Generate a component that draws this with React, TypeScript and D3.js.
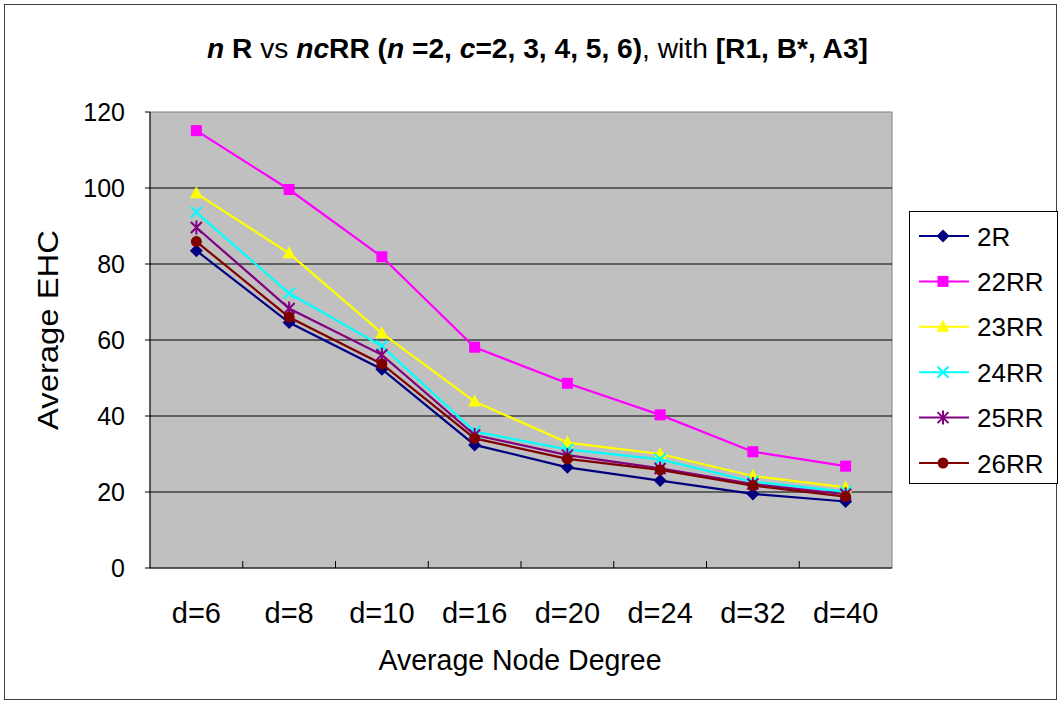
import React from 'react';
import * as d3 from 'd3';

// categories and series
const categories = ['d=6', 'd=8', 'd=10', 'd=16', 'd=20', 'd=24', 'd=32', 'd=40'];
const s2R = [83.5, 64.6, 52.3, 32.4, 26.5, 23.0, 19.5, 17.5];
const s22RR = [115.1, 99.6, 81.9, 58.1, 48.6, 40.3, 30.6, 26.8];
const s23RR = [98.6, 82.8, 61.8, 43.8, 33.0, 30.0, 24.2, 21.2];
const s24RR = [93.6, 72.3, 58.4, 35.9, 31.2, 28.6, 22.7, 20.1];
const s25RR = [89.6, 68.3, 56.1, 35.0, 29.7, 26.2, 22.1, 19.4];
const s26RR = [85.9, 66.0, 53.7, 34.1, 28.7, 25.8, 21.7, 18.8];
const yTicks = [0, 20, 40, 60, 80, 100, 120];

type Marker = 'diamond' | 'square' | 'triangle' | 'x' | 'star' | 'circle';
const seriesList: { name: string; values: number[]; color: string; marker: Marker }[] = [
  { name: '2R', values: s2R, color: '#000080', marker: 'diamond' },
  { name: '22RR', values: s22RR, color: '#ff00ff', marker: 'square' },
  { name: '23RR', values: s23RR, color: '#ffff00', marker: 'triangle' },
  { name: '24RR', values: s24RR, color: '#00ffff', marker: 'x' },
  { name: '25RR', values: s25RR, color: '#800080', marker: 'star' },
  { name: '26RR', values: s26RR, color: '#800000', marker: 'circle' },
];

const W = 1061;
const H = 705;
const plot = { left: 150, right: 892, top: 112, bottom: 568 };
const NARROW = '"Liberation Sans Narrow", "Liberation Sans", Arial, sans-serif';
const SANS = '"Liberation Sans", Arial, sans-serif';

function MarkerShape({ type, x, y, color }: { type: Marker; x: number; y: number; color: string }) {
  const r = 6.5;
  switch (type) {
    case 'diamond':
      return <path d={`M${x},${y - r} L${x + r},${y} L${x},${y + r} L${x - r},${y} Z`} fill={color} />;
    case 'square':
      return <rect x={x - 5.5} y={y - 5.5} width={11} height={11} fill={color} />;
    case 'triangle':
      return <path d={`M${x},${y - 7} L${x + 6.5},${y + 5} L${x - 6.5},${y + 5} Z`} fill={color} />;
    case 'x':
      return (
        <path d={`M${x - 5.5},${y - 5.5} L${x + 5.5},${y + 5.5} M${x - 5.5},${y + 5.5} L${x + 5.5},${y - 5.5}`} stroke={color} strokeWidth={2} />
      );
    case 'star':
      return (
        <path
          d={`M${x - 5.5},${y - 5.5} L${x + 5.5},${y + 5.5} M${x - 5.5},${y + 5.5} L${x + 5.5},${y - 5.5} M${x},${y - 7} L${x},${y + 7}`}
          stroke={color}
          strokeWidth={2}
        />
      );
    default:
      return <circle cx={x} cy={y} r={5.5} fill={color} />;
  }
}

export default function App() {
  const x = d3.scaleBand<string>().domain(categories).range([plot.left, plot.right]).padding(0);
  const y = d3.scaleLinear().domain([0, 120]).range([plot.bottom, plot.top]);
  const cx = (c: string) => (x(c) ?? 0) + x.bandwidth() / 2;

  const line = d3
    .line<number>()
    .x((_, i) => cx(categories[i]))
    .y((d) => y(d));

  const legendX = 909;
  const legendY = 211;
  const legendStep = 45.4;

  return (
    <div style={{ position: 'absolute', left: 0, top: 0 }}>
      <svg width={W} height={H} style={{ display: 'block', background: '#fff' }}>
        {/* outer frame */}
        <rect x={4.5} y={4.5} width={1052} height={695} fill="#fff" stroke="#404040" strokeWidth={1} />

        {/* title */}
        <text x={207} y={58} fontFamily={NARROW} fontSize={27} fontWeight="bold" textLength={661} lengthAdjust="spacingAndGlyphs">
          <tspan fontStyle="italic">n </tspan>
          <tspan>R </tspan>
          <tspan fontWeight="normal">vs </tspan>
          <tspan fontStyle="italic">nc</tspan>
          <tspan>RR (</tspan>
          <tspan fontStyle="italic">n </tspan>
          <tspan>=2, </tspan>
          <tspan fontStyle="italic">c</tspan>
          <tspan>=2, 3, 4, 5, 6)</tspan>
          <tspan fontWeight="normal">, with </tspan>
          <tspan>[R1, B*, A3]</tspan>
        </text>

        {/* plot area */}
        <rect x={plot.left} y={plot.top} width={plot.right - plot.left} height={plot.bottom - plot.top} fill="#c0c0c0" stroke="#808080" strokeWidth={1} />
        {yTicks.filter((t) => t > 0 && t < 120).map((t) => (
          <line key={t} x1={plot.left} x2={plot.right} y1={y(t)} y2={y(t)} stroke="#000" strokeWidth={1} />
        ))}

        {/* axes */}
        <line x1={plot.left} x2={plot.left} y1={plot.top} y2={plot.bottom} stroke="#000" strokeWidth={1} />
        <line x1={plot.left} x2={plot.right} y1={plot.bottom} y2={plot.bottom} stroke="#000" strokeWidth={1} />
        {yTicks.map((t) => (
          <g key={t}>
            <line x1={plot.left - 5} x2={plot.left} y1={y(t)} y2={y(t)} stroke="#000" />
            <text x={125} y={y(t) + 9} textAnchor="end" fontFamily={SANS} fontSize={25} fill="#000">
              {t}
            </text>
          </g>
        ))}
        {categories.map((c, i) => (
          <g key={c}>
            {i > 0 && <line x1={x(c)} x2={x(c)} y1={plot.bottom - 7} y2={plot.bottom} stroke="#000" />}
            <text x={cx(c)} y={623} textAnchor="middle" fontFamily={NARROW} fontSize={29} fill="#000">
              {c}
            </text>
          </g>
        ))}

        {/* axis titles */}
        <text x={(plot.left + plot.right) / 2 - 1} y={670} textAnchor="middle" fontFamily={NARROW} fontSize={29} textLength={283} lengthAdjust="spacingAndGlyphs">
          Average Node Degree
        </text>
        <text transform="translate(58,330) rotate(-90)" textAnchor="middle" fontFamily={NARROW} fontSize={29} textLength={200} lengthAdjust="spacingAndGlyphs">
          Average EHC
        </text>

        {/* series */}
        {seriesList.map((s) => (
          <g key={s.name}>
            <path d={line(s.values) ?? ''} fill="none" stroke={s.color} strokeWidth={2.2} />
            {s.values.map((v, i) => (
              <MarkerShape key={i} type={s.marker} x={cx(categories[i])} y={y(v)} color={s.color} />
            ))}
          </g>
        ))}

        {/* legend */}
        <rect x={legendX + 0.5} y={legendY + 0.5} width={148} height={272} fill="#fff" stroke="#000" strokeWidth={1} />
        {seriesList.map((s, i) => {
          const ly = 236 + i * legendStep;
          return (
            <g key={s.name}>
              <line x1={919} x2={969} y1={ly} y2={ly} stroke={s.color} strokeWidth={2} />
              <MarkerShape type={s.marker} x={943} y={ly} color={s.color} />
              <text x={977} y={ly + 9.5} fontFamily={SANS} fontSize={26} fill="#000">
                {s.name}
              </text>
            </g>
          );
        })}
      </svg>
    </div>
  );
}
